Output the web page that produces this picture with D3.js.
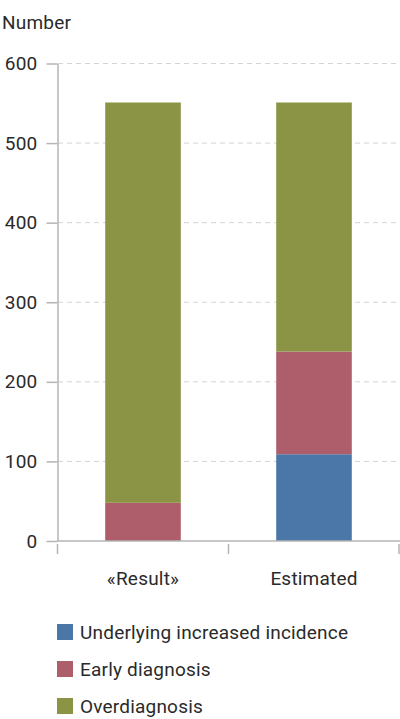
<!DOCTYPE html>
<html>
<head>
<meta charset="utf-8">
<script src="https://cdn.jsdelivr.net/npm/d3@7"></script>
<style>
  body { margin: 0; background: #fff; }
  text { font-family: Roboto, "DejaVu Sans", sans-serif; fill: #2a2a2a; letter-spacing: 0.2px; }
</style>
</head>
<body>
<div id="chart"></div>
<script>
// data
var categories = ["«Result»", "Estimated"];
var seriesNames = ["Underlying increased incidence", "Early diagnosis", "Overdiagnosis"];
var underlying = [0, 109];
var early = [48, 129];
var overdiagnosis = [503, 313];
var yTicks = [0, 100, 200, 300, 400, 500, 600];
var colors = ["#4a76a8", "#ad5e6a", "#8a9444"];

var width = 400, height = 719;

var svg = d3.select("#chart").append("svg")
    .attr("width", width)
    .attr("height", height);

// build rows for the stack
var data = categories.map(function(c, i) {
  var row = {cat: c};
  row[seriesNames[0]] = underlying[i];
  row[seriesNames[1]] = early[i];
  row[seriesNames[2]] = overdiagnosis[i];
  return row;
});

var x = d3.scaleBand()
    .domain(categories)
    .range([57.5, 399.5])
    .paddingInner(0.558)
    .paddingOuter(0.279);

var y = d3.scaleLinear()
    .domain([0, 600])
    .range([541, 63.5]);

var z = d3.scaleOrdinal().domain(seriesNames).range(colors);

// dashed gridlines
svg.append("g")
  .selectAll("line")
  .data(yTicks.slice(1))
  .enter().append("line")
    .attr("x1", 58).attr("x2", 400)
    .attr("y1", function(d) { return y(d); })
    .attr("y2", function(d) { return y(d); })
    .attr("stroke", "#d4d4d4")
    .attr("stroke-width", 1)
    .attr("stroke-dasharray", "5,4");

// stacked bars
svg.append("g")
  .selectAll("g")
  .data(d3.stack().keys(seriesNames)(data))
  .enter().append("g")
    .attr("fill", function(d) { return z(d.key); })
  .selectAll("rect")
  .data(function(d) { return d; })
  .enter().append("rect")
    .attr("x", function(d) { return x(d.data.cat); })
    .attr("y", function(d) { return y(d[1]); })
    .attr("height", function(d) { return y(d[0]) - y(d[1]); })
    .attr("width", x.bandwidth());

// y axis
var yAxis = svg.append("g")
    .attr("transform", "translate(57.5,0)")
    .call(d3.axisLeft(y).tickValues(yTicks).tickSize(11).tickSizeOuter(0).tickPadding(9));
yAxis.select(".domain").attr("stroke", "#b5b5b5").attr("stroke-width", 1.5);
yAxis.selectAll(".tick line").attr("stroke", "#b5b5b5").attr("stroke-width", 1.5);
yAxis.selectAll(".tick text").attr("font-size", 19).attr("fill", "#2a2a2a")
    .attr("font-family", "Roboto, sans-serif");

// x axis
var xAxis = svg.append("g")
    .attr("transform", "translate(0,541)")
    .call(d3.axisBottom(x).tickSize(0).tickSizeOuter(0).tickPadding(31));
xAxis.select(".domain").attr("stroke", "#b5b5b5").attr("stroke-width", 1.5)
    .attr("d", "M57.5,0H400");
xAxis.selectAll(".tick text").attr("font-size", 19).attr("fill", "#2a2a2a")
    .attr("font-family", "Roboto, sans-serif");

// separators between categories
var step = x.step();
var edges = [x(categories[0]) - step * x.paddingOuter()]
    .concat(categories.map(function(c) { return x(c) + x.bandwidth() + step * x.paddingInner() / 2; }));
edges[edges.length - 1] = Math.min(edges[edges.length - 1], 399);
svg.append("g")
  .selectAll("line")
  .data(edges)
  .enter().append("line")
    .attr("x1", function(d) { return d; })
    .attr("x2", function(d) { return d; })
    .attr("y1", 544).attr("y2", 554)
    .attr("stroke", "#b5b5b5")
    .attr("stroke-width", 1.5);

// axis title
svg.append("text")
    .attr("x", 2).attr("y", 29)
    .attr("font-size", 19)
    .text("Number");

// legend
var legend = svg.append("g")
  .selectAll("g")
  .data(seriesNames)
  .enter().append("g")
    .attr("transform", function(d, i) { return "translate(57," + (624 + i * 37) + ")"; });

legend.append("rect")
    .attr("width", 16).attr("height", 16)
    .attr("fill", function(d) { return z(d); });

legend.append("text")
    .attr("x", 23).attr("y", 15)
    .attr("font-size", 19)
    .attr("fill", "#333")
    .text(function(d) { return d; });
</script>
</body>
</html>
